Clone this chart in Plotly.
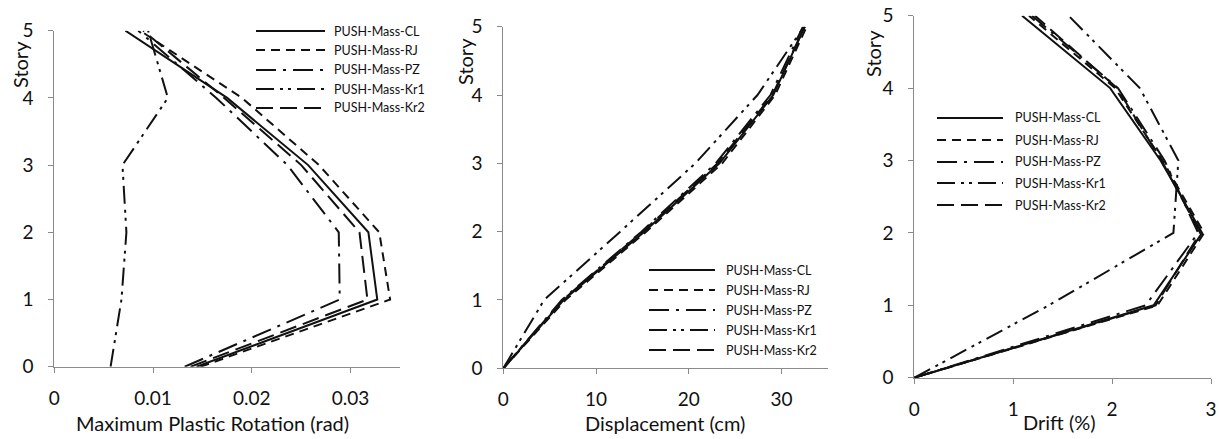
import plotly.graph_objects as go

W, H = 1219, 439

stories = [0, 1, 2, 3, 4, 5]
series_names = ["PUSH-Mass-CL", "PUSH-Mass-RJ", "PUSH-Mass-PZ", "PUSH-Mass-Kr1", "PUSH-Mass-Kr2"]

# Panel 1: maximum plastic rotation (rad)
rot_CL = [0.0144, 0.0327, 0.0318, 0.0257, 0.0175, 0.0072]
rot_RJ = [0.0148, 0.0340, 0.0329, 0.0268, 0.0190, 0.0087]
rot_PZ = [0.0132, 0.0289, 0.0288, 0.0236, 0.0164, 0.0085]
rot_Kr1 = [0.0057, 0.0068, 0.0073, 0.0069, 0.0115, 0.0095]
rot_Kr2 = [0.0138, 0.0317, 0.0309, 0.0250, 0.0172, 0.0090]

# Panel 2: displacement (cm)
disp_CL = [0, 6.5, 15.2, 23.3, 29.1, 32.5]
disp_RJ = [0, 6.7, 15.4, 23.6, 29.3, 32.7]
disp_PZ = [0, 6.3, 14.9, 22.9, 28.8, 32.3]
disp_Kr1 = [0, 4.4, 12.6, 20.7, 27.4, 32.4]
disp_Kr2 = [0, 6.4, 15.0, 23.1, 29.0, 32.5]

# Panel 3: drift (%)
drift_CL = [0, 2.42, 2.91, 2.49, 1.98, 1.09]
drift_RJ = [0, 2.46, 2.93, 2.51, 2.03, 1.16]
drift_PZ = [0, 2.34, 2.87, 2.53, 2.06, 1.19]
drift_Kr1 = [0, 1.36, 2.62, 2.67, 2.28, 1.56]
drift_Kr2 = [0, 2.44, 2.89, 2.50, 2.05, 1.22]

x_ticks_rot = [0, 0.01, 0.02, 0.03]
x_ticklabels_rot = ["0", "0.01", "0.02", "0.03"]
x_ticks_disp = [0, 10, 20, 30]
x_ticks_drift = [0, 1, 2, 3]
y_ticks = [0, 1, 2, 3, 4, 5]

dashes = ["solid", "9px,6px", "20px,7px,3px,7px", "18px,6px,3px,5px,3px,6px", "17px,7px"]
FONT = "Lato, 'Open Sans', sans-serif"
TXT = "#111111"
AX = "#8a8a8a"

panels = [
    dict(data=[rot_CL, rot_RJ, rot_PZ, rot_Kr1, rot_Kr2], px=(54.3, 400.0), py=(30.7, 366.7),
         xrange=[0, 0.035], ticks=x_ticks_rot, labels=x_ticklabels_rot,
         title="Maximum Plastic Rotation (rad)", title_xy=(212, 423), story_xy=(20, 65),
         leg_x=(256, 325, 332), leg_y=[31, 50, 70, 89, 108]),
    dict(data=[disp_CL, disp_RJ, disp_PZ, disp_Kr1, disp_Kr2], px=(503.3, 828.0), py=(26.7, 368.3),
         xrange=[0, 35], ticks=x_ticks_disp, labels=[str(v) for v in x_ticks_disp],
         title="Displacement (cm)", title_xy=(665, 423), story_xy=(465, 62),
         leg_x=(649, 715, 724), leg_y=[270, 290, 310, 330, 350]),
    dict(data=[drift_CL, drift_RJ, drift_PZ, drift_Kr1, drift_Kr2], px=(914.3, 1211.0), py=(15.7, 377.7),
         xrange=[0, 3], ticks=x_ticks_drift, labels=[str(v) for v in x_ticks_drift],
         title="Drift (%)", title_xy=(1059, 422), story_xy=(873, 54),
         leg_x=(937, 1003, 1013), leg_y=[118, 140, 162, 183, 205]),
]

fig = go.Figure()
shapes = []
annotations = []

for i, p in enumerate(panels):
    n = "" if i == 0 else str(i + 1)
    xa, ya = "x" + n, "y" + n
    for name, vals, dash in zip(series_names, p["data"], dashes):
        fig.add_trace(go.Scatter(x=vals, y=stories, mode="lines", name=name,
                                 xaxis=xa, yaxis=ya, showlegend=False,
                                 line=dict(color="#111111", width=2, dash=dash)))
    fig.layout["xaxis" + n] = dict(
        domain=[p["px"][0] / W, p["px"][1] / W], range=p["xrange"], anchor=ya,
        tickvals=p["ticks"], ticktext=p["labels"], showgrid=False, zeroline=False,
        showline=True, linecolor=AX, linewidth=1, ticks="outside", ticklen=5,
        tickcolor=AX, tickfont=dict(family=FONT, size=19, color=TXT), ticklabelstandoff=9,
        automargin=False)
    fig.layout["yaxis" + n] = dict(
        domain=[(H - p["py"][1]) / H, (H - p["py"][0]) / H], range=[0, 5], anchor=xa,
        tickvals=y_ticks, showgrid=False, zeroline=False,
        showline=True, linecolor=AX, linewidth=1, ticks="outside", ticklen=5,
        tickcolor=AX, tickfont=dict(family=FONT, size=19, color=TXT), ticklabelstandoff=11,
        automargin=False)
    annotations.append(dict(text=p["title"], x=p["title_xy"][0] / W, y=(H - p["title_xy"][1]) / H,
                            xref="paper", yref="paper", showarrow=False, xanchor="center", yanchor="middle",
                            font=dict(family=FONT, size=20, color=TXT)))
    annotations.append(dict(text="Story", x=p["story_xy"][0] / W, y=(H - p["story_xy"][1]) / H,
                            xref="paper", yref="paper", showarrow=False, textangle=-90,
                            xanchor="center", yanchor="middle",
                            font=dict(family=FONT, size=20, color=TXT)))
    x0, x1, xt = p["leg_x"]
    for name, dash, yy in zip(series_names, dashes, p["leg_y"]):
        shapes.append(dict(type="line", xref="paper", yref="paper",
                           x0=x0 / W, x1=x1 / W, y0=(H - yy) / H, y1=(H - yy) / H,
                           line=dict(color="#111111", width=2, dash=dash)))
        annotations.append(dict(text=name, x=xt / W, y=(H - yy) / H, xref="paper", yref="paper",
                                showarrow=False, xanchor="left", yanchor="middle",
                                font=dict(family=FONT, size=12.5, color=TXT)))

fig.update_layout(width=W, height=H, margin=dict(l=0, r=0, t=0, b=0, autoexpand=False),
                  paper_bgcolor="white", plot_bgcolor="white",
                  shapes=shapes, annotations=annotations, showlegend=False)

fig.write_html("out.html", config={"displayModeBar": False})
